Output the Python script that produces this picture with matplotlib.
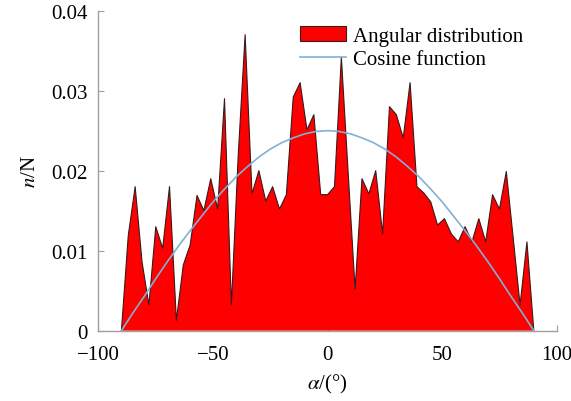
import matplotlib
matplotlib.use("Agg")
import matplotlib.pyplot as plt
from matplotlib.patches import Patch
import numpy as np

# angular distribution, 3-degree bins from -90 to 90
alpha = np.arange(-90, 91, 3)
n_over_N = [0.0, 0.0119, 0.0180, 0.0086, 0.0032, 0.0130, 0.0103, 0.0180, 0.0013, 0.0082,
            0.0107, 0.0169, 0.0150, 0.0190, 0.0152, 0.0290, 0.0032, 0.0220, 0.0370, 0.0171,
            0.0200, 0.0162, 0.0180, 0.0152, 0.0170, 0.0292, 0.0310, 0.0251, 0.0270, 0.0170,
            0.0170, 0.0180, 0.0342, 0.0196, 0.0052, 0.0190, 0.0171, 0.0200, 0.0121, 0.0280,
            0.0270, 0.0241, 0.0310, 0.0180, 0.0172, 0.0161, 0.0132, 0.0140, 0.0121, 0.0111,
            0.0130, 0.0111, 0.0140, 0.0111, 0.0170, 0.0152, 0.0199, 0.0116, 0.0032, 0.0111,
            0.0]

# cosine reference curve, read at 5-degree steps
cos_x = np.arange(-90, 91, 5)
cos_half = [0.0250, 0.0249, 0.0246, 0.0241, 0.0235, 0.0227, 0.0217, 0.0205, 0.0192, 0.0177,
            0.0161, 0.0143, 0.0125, 0.0106, 0.0086, 0.0065, 0.0043, 0.0022, 0.0]
cos_y = cos_half[::-1] + cos_half[1:]

plt.rcParams["font.family"] = ["Liberation Serif", "DejaVu Serif"]
plt.rcParams["mathtext.fontset"] = "stix"

fig = plt.figure(figsize=(5.71, 4.02), dpi=100)
ax = fig.add_axes([0.1725, 0.175, 0.8025, 0.796])

ax.fill_between(alpha, n_over_N, 0, facecolor="#ff0000", edgecolor="none",
                label="Angular distribution", zorder=2)
ax.plot(alpha, n_over_N, color="#3a1a1a", lw=0.8, zorder=3)
ax.plot(cos_x, cos_y, color="#7fb1d6", lw=1.2, label="Cosine function", zorder=4)

ax.set_xlim(-100, 100)
ax.set_ylim(0, 0.04)
ax.set_xticks([-100, -50, 0, 50, 100])
ax.set_yticks([0, 0.01, 0.02, 0.03, 0.04])
ax.set_yticklabels(["0", "0.01", "0.02", "0.03", "0.04"])
ax.tick_params(direction="in", length=4, color="#a0a0a0", labelsize=15, zorder=1)
ax.tick_params(axis="x", pad=10)
ax.tick_params(axis="y", pad=8)
for s in ["top", "right"]:
    ax.spines[s].set_visible(False)
for s in ["left", "bottom"]:
    ax.spines[s].set_color("#a0a0a0")
    ax.spines[s].set_linewidth(1.0)

ax.set_xlabel(r"$\alpha$/(°)", fontsize=15, labelpad=6)
ax.set_ylabel(r"$n$/N", fontsize=15, labelpad=8)

handles, labels = ax.get_legend_handles_labels()
handles[0] = Patch(facecolor="#ff0000", edgecolor="#3a1a1a", linewidth=0.8)
ax.legend(handles, labels, loc="upper left", bbox_to_anchor=(300 / 571, 1 - 27 / 402),
          bbox_transform=fig.transFigure, frameon=False, fontsize=15, borderpad=0,
          handlelength=2.2, handletextpad=0.35, labelspacing=0.2, borderaxespad=0)

fig.savefig("out.png", dpi=100)
